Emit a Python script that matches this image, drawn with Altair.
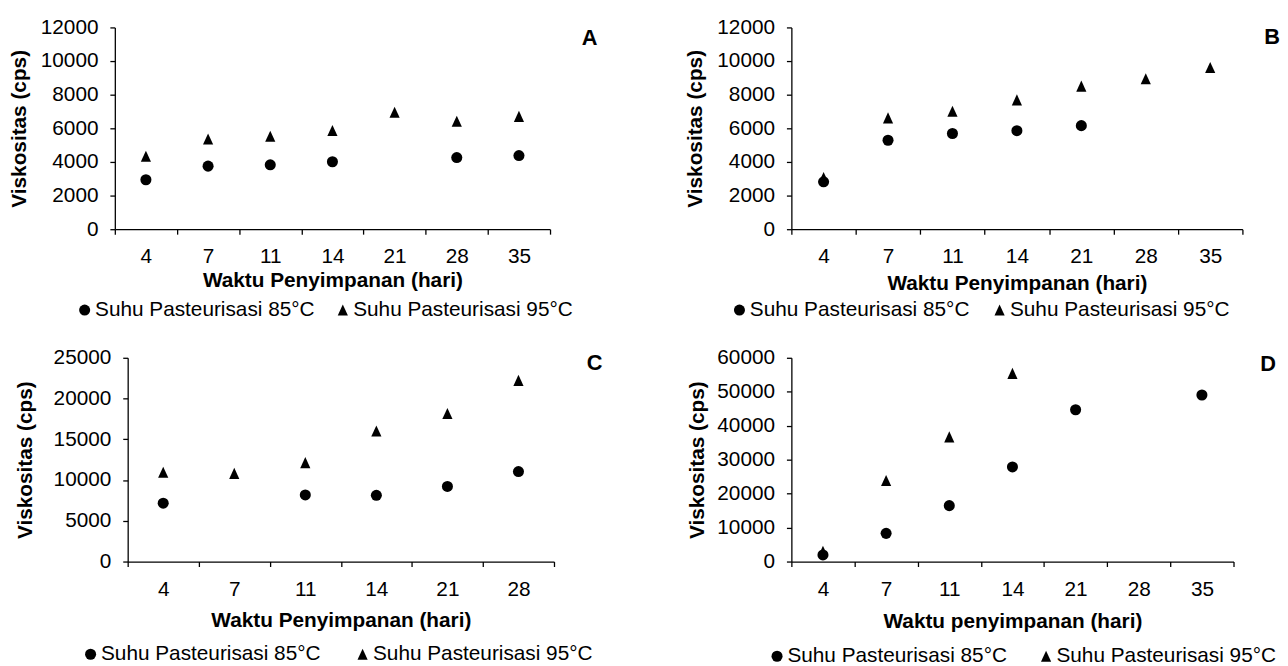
import altair as alt
import pandas as pd

FONT = "Liberation Sans"
S85 = "Suhu Pasteurisasi 85°C"
S95 = "Suhu Pasteurisasi 95°C"
SERIES = [S85, S95]
TRIANGLE = "M0,-1L-0.92,1L0.92,1Z"

Y_TITLE = "Viskositas (cps)"
X_TITLE_ABC = "Waktu Penyimpanan (hari)"
X_TITLE_D = "Waktu penyimpanan (hari)"
PANEL_LABELS = ["A", "B", "C", "D"]

A_DAYS = ["4", "7", "11", "14", "21", "28", "35"]
A_85 = [2940, 3750, 3830, 4010, None, 4260, 4380]
A_95 = [4340, 5370, 5530, 5870, 6950, 6420, 6710]
A_YTICKS = [0, 2000, 4000, 6000, 8000, 10000, 12000]

B_DAYS = ["4", "7", "11", "14", "21", "28", "35"]
B_85 = [2820, 5290, 5690, 5860, 6160, None, None]
B_95 = [3080, 6620, 7020, 7690, 8510, 8950, 9620]
B_YTICKS = [0, 2000, 4000, 6000, 8000, 10000, 12000]

C_DAYS = ["4", "7", "11", "14", "21", "28"]
C_85 = [7160, None, 8170, 8130, 9220, 11040]
C_95 = [10960, 10820, 12140, 16020, 18160, 22230]
C_YTICKS = [0, 5000, 10000, 15000, 20000, 25000]

D_DAYS = ["4", "7", "11", "14", "21", "28", "35"]
D_85 = [1950, 8300, 16460, 27860, 44710, None, 49050]
D_95 = [3000, 23860, 36720, 55420, None, None, None]
D_YTICKS = [0, 10000, 20000, 30000, 40000, 50000, 60000]


def make_panel(days, v85, v95, yticks, xtitle, letter, width, height,
               x0=0, y_offset=0, y_tp=11, x_tp=3,
               lx=0, ly=0, colpad=17, letter_x=0, letter_y=0):
    rows = []
    for d, a, b in zip(days, v85, v95):
        if a is not None:
            rows.append({"day": d, "val": a, "series": S85})
        if b is not None:
            rows.append({"day": d, "val": b, "series": S95})
    df = pd.DataFrame(rows)
    xscale = dict(domain=days, paddingInner=0, paddingOuter=0)
    if x0:
        xscale["range"] = [x0, width]
    pts = alt.Chart(df).mark_point(filled=True, opacity=1, color="black", size=125).encode(
        x=alt.X("day:N", sort=days, scale=alt.Scale(**xscale),
                axis=alt.Axis(title=xtitle, labelAngle=0, tickBand="extent",
                              labelPadding=12, titlePadding=x_tp, labelOverlap=False)),
        y=alt.Y("val:Q", scale=alt.Scale(domain=[0, yticks[-1]], nice=False),
                axis=alt.Axis(title=Y_TITLE, values=yticks, format="d", offset=y_offset,
                              labelPadding=12, titlePadding=y_tp, labelFlush=False,
                              labelOverlap=False)),
        shape=alt.Shape("series:N",
                        scale=alt.Scale(domain=SERIES, range=["circle", TRIANGLE]),
                        legend=alt.Legend(title=None, orient="none", legendX=lx, legendY=ly,
                                          direction="horizontal", columns=2,
                                          columnPadding=colpad, labelOffset=0,
                                          labelLimit=0,
                                          symbolSize=125, symbolFillColor="black",
                                          symbolStrokeColor="black", symbolStrokeWidth=0,
                                          symbolOpacity=1, labelFont=FONT, labelFontSize=21,
                                          labelColor="black", padding=0)),
    )
    lab = alt.Chart(pd.DataFrame({"t": [letter]})).mark_text(
        font=FONT, fontSize=22, fontWeight="bold", color="black",
        align="center", baseline="middle"
    ).encode(text="t:N", x=alt.value(letter_x), y=alt.value(letter_y))
    return alt.layer(pts, lab).properties(width=width, height=height)


pa = make_panel(A_DAYS, A_85, A_95, A_YTICKS, X_TITLE_ABC, PANEL_LABELS[0], 440, 204,
                y_tp=11, x_tp=3, lx=-41, ly=275, colpad=17, letter_x=480, letter_y=11)
pb = make_panel(B_DAYS, B_85, B_95, B_YTICKS, X_TITLE_ABC, PANEL_LABELS[1], 456, 204,
                y_tp=11, x_tp=6, lx=-63, ly=275, colpad=19, letter_x=486, letter_y=10)
pc = make_panel(C_DAYS, C_85, C_95, C_YTICKS, X_TITLE_ABC, PANEL_LABELS[2], 444, 206,
                x0=13, y_offset=-13, y_tp=18, x_tp=11, lx=-35, ly=289, colpad=31,
                letter_x=485, letter_y=5)
pd_ = make_panel(D_DAYS, D_85, D_95, D_YTICKS, X_TITLE_D, PANEL_LABELS[3], 447, 206,
                 y_tp=9, x_tp=12, lx=-25, ly=291, colpad=28, letter_x=482, letter_y=6)

chart = alt.concat(
    pa, pb, pc, pd_, columns=2, spacing={"row": 130, "column": 240},
    bounds="flush", align="none"
).resolve_scale(
    shape="independent"
).resolve_legend(
    shape="independent"
).properties(
    padding={"left": 0, "top": 5, "right": 0, "bottom": 0}
).configure_axis(
    labelFont=FONT, titleFont=FONT, labelFontSize=21, titleFontSize=21,
    titleFontWeight="bold", labelColor="black", titleColor="black",
    domainColor="black", tickColor="black", tickSize=5, grid=False,
    domainWidth=1.3, tickWidth=1.3
).configure_view(stroke=None)

chart.save("out.html", embed_options={"renderer": "svg", "actions": False})
